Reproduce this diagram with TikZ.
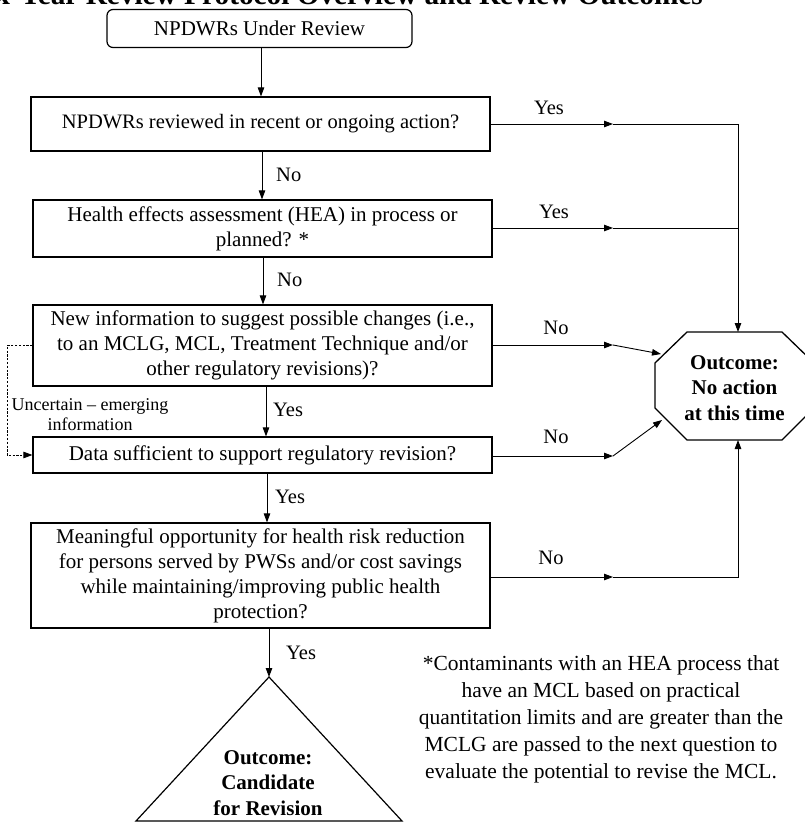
\documentclass[tikz,border=0pt]{standalone}
\usepackage{fontspec}
\setmainfont{Liberation Serif}
\usetikzlibrary{arrows.meta}
\begin{document}
\begin{tikzpicture}[x=1pt,y=-1pt,
  box/.style={draw,line width=1.2pt,inner sep=0pt,align=center,
    font=\fontsize{21}{25}\selectfont},
  lbl/.style={inner sep=0pt,font=\fontsize{20.5}{24}\selectfont},
  arr/.style={line width=0.9pt,-{Triangle[length=9pt,width=6.5pt]}},
  ln/.style={line width=0.9pt},
  dsh/.style={line width=0.8pt,dash pattern=on 2.2pt off 1.6pt,-{Triangle[length=9pt,width=6.5pt]}},
  outc/.style={inner sep=0pt,align=center,font=\bfseries\fontsize{21}{25.5}\selectfont}]
\useasboundingbox (0,0) rectangle (805,822);
\fill[white] (0,0) rectangle (805,822);

% title (mostly cut off by the page edge, as in the reference)
\node[anchor=base east,inner sep=0pt,font=\bfseries\fontsize{29.3}{34}\selectfont] (title) at (703,4) {Six-Year Review Protocol Overview and Review Outcomes};

% boxes
\node[box,rounded corners=6pt,minimum width=305pt,minimum height=38pt] (b0) at (259.5,28.5) {NPDWRs Under Review};
\node[box,minimum width=459pt,minimum height=54pt,font=\fontsize{20.5}{25}\selectfont] (b1) at (260.5,124) {NPDWRs reviewed in recent or ongoing action?};
\node[box,minimum width=459pt,minimum height=57pt] (b2) at (262.5,228.5) {Health effects assessment (HEA) in process or\\planned? *};
\node[box,minimum width=459pt,minimum height=81pt] (b3) at (262.5,345.5) {New information to suggest possible changes (i.e.,\\to an MCLG, MCL, Treatment Technique and/or\\other regulatory revisions)?};
\node[box,minimum width=459pt,minimum height=36pt] (b4) at (262.5,455) {Data sufficient to support regulatory revision?};
\node[box,minimum width=459pt,minimum height=105pt] (b5) at (260.5,575.5) {Meaningful opportunity for health risk reduction\\for persons served by PWSs and/or cost savings\\while maintaining/improving public health\\protection?};

% octagon outcome
\draw[line width=1.3pt] (687,332) -- (782,332) -- (814,363) -- (814,408) -- (782,440) -- (687,440) -- (655,408) -- (655,363) -- cycle;
\node[outc] (oct) at (734.5,388) {Outcome:\\No action\\at this time};
\coordinate (otop) at (738,332);
\coordinate (obot) at (738,440);
\coordinate (o3) at (661,354);
\coordinate (o4) at (662,420);

% triangle outcome
\coordinate (apex) at (269,677);
\draw[line width=1.2pt] (apex) -- (402,821) -- (136,821) -- cycle;
\node[outc] (tri) at (268,783) {Outcome:\\Candidate\\for Revision};

% vertical connectors
\coordinate (c01) at (261,0);
\coordinate (c12) at (262,0);
\coordinate (c23) at (263,0);
\coordinate (c34) at (266,0);
\coordinate (c45) at (267,0);
\coordinate (c5t) at (269,0);
\draw[arr] (b0.south -| c01) -- (b1.north -| c01);
\draw[arr] (b1.south -| c12) -- (b2.north -| c12);
\draw[arr] (b2.south -| c23) -- (b3.north -| c23);
\draw[arr] (b3.south -| c34) -- (b4.north -| c34);
\draw[arr] (b4.south -| c45) -- (b5.north -| c45);
\draw[arr] (b5.south -| c5t) -- (apex);

% right-hand connectors
\coordinate (m1) at (613,124);
\coordinate (j1) at (738,124);
\coordinate (m2) at (613,228);
\coordinate (j2) at (738,228);
\coordinate (m3) at (613,345);
\coordinate (m4) at (613,456);
\coordinate (m5) at (613,577);
\coordinate (j5) at (738,577);
\draw[arr] (b1.east |- m1) -- (m1);
\draw[arr] (m1) -- (j1) -- (otop);
\draw[arr] (b2.east |- m2) -- (m2);
\draw[ln] (m2) -- (j2);
\draw[arr] (b3.east |- m3) -- (m3);
\draw[arr] (m3) -- (o3);
\draw[arr] (b4.east |- m4) -- (m4);
\draw[arr] (m4) -- (o4);
\draw[arr] (b5.east |- m5) -- (m5);
\draw[arr] (m5) -- (j5) -- (obot);

% dashed feedback
\coordinate (dl) at (7,0);
\draw[dsh] (b3.west) -- (b3.west -| dl) |- (b4.west);

% labels
\node[lbl] (y1) at (549,108) {Yes};
\node[lbl,anchor=west] (n1) at (276,175) {No};
\node[lbl] (y2) at (554,212) {Yes};
\node[lbl,anchor=west] (n2) at (277,280) {No};
\node[lbl] (n3) at (556,328) {No};
\node[lbl,anchor=west] (y3) at (273,410) {Yes};
\node[lbl] (n4) at (556,437) {No};
\node[lbl,anchor=west] (y4) at (275,497) {Yes};
\node[lbl] (n5) at (551,558) {No};
\node[lbl,anchor=west] (y5) at (286,653) {Yes};
\node[inner sep=0pt,align=center,font=\fontsize{18}{20}\selectfont] (unc) at (90,415) {Uncertain -- emerging\\information};

% footnote
\node[inner sep=0pt,align=center,font=\fontsize{21.5}{27}\selectfont] (fn) at (601,719) {*Contaminants with an HEA process that\\have an MCL based on practical\\quantitation limits and are greater than the\\MCLG are passed to the next question to\\evaluate the potential to revise the MCL.};
\end{tikzpicture}
\end{document}
